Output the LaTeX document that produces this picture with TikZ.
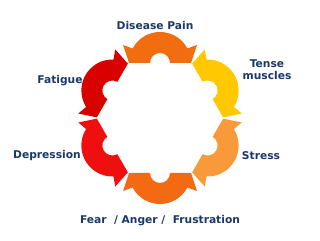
\documentclass[tikz,border=0pt]{standalone}
\usepackage{fontspec}
\setsansfont{DejaVu Sans}
\usepackage{tikz}
\usepackage{xcolor}
\usetikzlibrary{positioning}

\definecolor{painorange}{HTML}{F26D10}
\definecolor{tenseyellow}{HTML}{FFC800}
\definecolor{stressorange}{HTML}{F99A3A}
\definecolor{fearorange}{HTML}{F36A12}
\definecolor{depressred}{HTML}{F00F0F}
\definecolor{fatiguered}{HTML}{D90000}
\definecolor{labelblue}{HTML}{1B3868}

\tikzset{
  cyclelabel/.style={text=labelblue, font=\sffamily\bfseries\fontsize{7.6}{8.6}\selectfont,
    align=center, inner sep=0pt},
}

\begin{document}
\begin{tikzpicture}[x=0.025cm, y=0.025cm]
    \useasboundingbox (0,0) rectangle (320,241);
    % six curved arrows round the cycle
    \begin{scope}[shift={(160,123)}]
        \foreach \ang/\col in {90/painorange, 30/tenseyellow, -30/stressorange,
                               -90/fearorange, -150/depressred, 150/fatiguered}
            \fill[\col, shift={(\ang:55)}, rotate=\ang-90]
                (10,0) -- (31,0) -- (37,18) -- (28:31) arc[start angle=28, end angle=152, radius=31]
                -- (-37,18) -- (-31,0) -- (-10,0) arc[start angle=180, end angle=0, radius=10] -- cycle;
    \end{scope}
    % labels
    \node[cyclelabel] (pain) at (155,215.5) {Disease Pain};
    \node[cyclelabel] (tense) at (267,171) {Tense\\muscles};
    \node[cyclelabel] (stress) at (261,85) {Stress};
    \node[cyclelabel] (fear) at (160,20.5) {Fear\ \ / Anger /\ \ Frustration};
    \node[cyclelabel] (depress) at (47,85) {Depression};
    \node[cyclelabel] (fatigue) at (60,160) {Fatigue};
\end{tikzpicture}
\end{document}
